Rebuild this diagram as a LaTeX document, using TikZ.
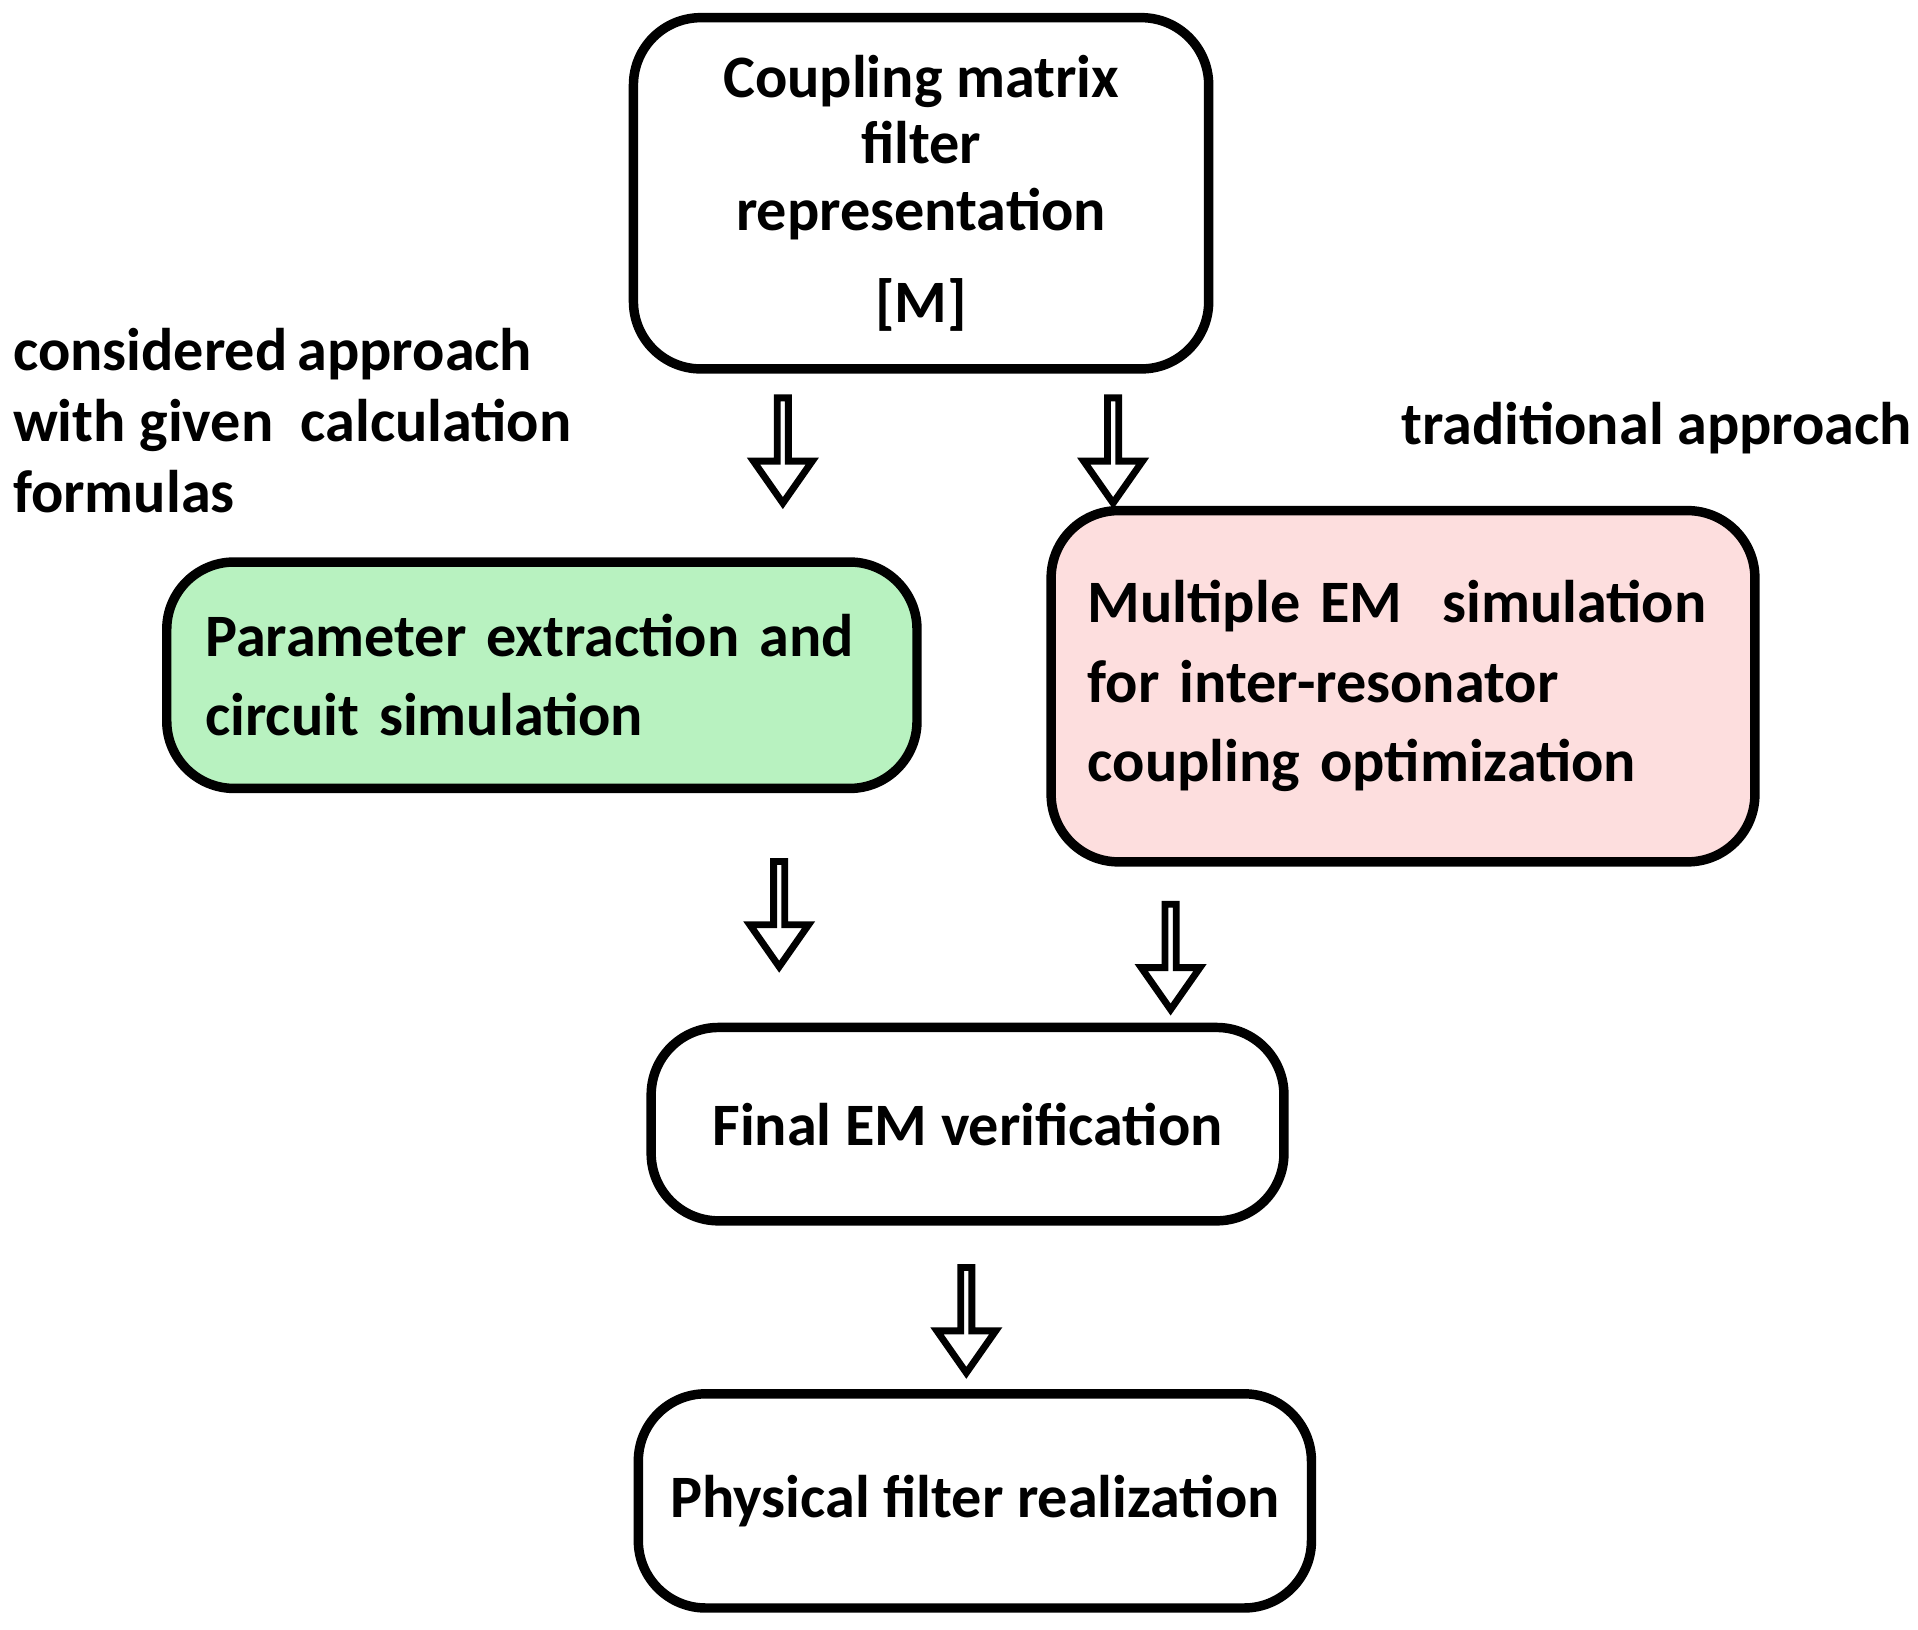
\documentclass[tikz,border=0pt]{standalone}
\usepackage{fontspec}
\setmainfont{Carlito}
\usetikzlibrary{shapes,arrows,positioning,calc}

\begin{document}
\begin{tikzpicture}[x=0.01cm,y=-0.01cm]
  \tikzstyle{box}=[draw=black, line width=2.2pt, rounded corners=0.55cm, font=\bfseries\fontsize{14}{18.5}\selectfont]
  \tikzstyle{down}=[single arrow, draw=black, line width=1.6pt, fill=white, shape border rotate=270,
    minimum width=0.48cm, single arrow head extend=0.12cm, single arrow tip angle=70, minimum height=0.86cm, inner sep=0pt]
  \tikzstyle{note}=[font=\bfseries\fontsize{14}{16.5}\selectfont, inner sep=0pt]
  \useasboundingbox (0,0) rectangle (1568,1332);

  % Blöcke
  \node[box, minimum width=4.7cm, minimum height=2.87cm, align=center] (matrix) at (753,158)
    {Coupling matrix\\[-3pt]filter\\[-3pt]representation\\[3pt][M]};
  \node[box, fill={rgb,255:red,184;green,242;blue,192}, minimum width=6.13cm, minimum height=1.85cm,
    align=left, text width=5.5cm] (param) at (443,552)
    {\raggedright Parameter extraction and\\circuit simulation};
  \node[box, fill={rgb,255:red,253;green,222;blue,222}, minimum width=5.75cm, minimum height=2.87cm,
    align=left, text width=5.15cm] (multi) at (1147,561)
    {\raggedright Multiple EM\ \ simulation\\for inter-resonator\\coupling optimization};
  \node[box, minimum width=5.17cm, minimum height=1.58cm] (final) at (791,919) {Final EM verification};
  \node[box, minimum width=5.5cm, minimum height=1.75cm] (phys) at (797,1227) {Physical filter realization};

  % Pfeile
  \node[down] (a1) at (640,365) {};
  \node[down] (a2) at (910,365) {};
  \node[down] (a3) at (637,744) {};
  \node[down] (a4) at (957,779) {};
  \node[down] (a5) at (790,1076) {};

  % Beschriftungen
  \node[note, anchor=north west, align=left] (left) at (10,268)
    {considered\,approach\\with given\ \ calculation\\formulas};
  \node[note, anchor=west] (right) at (1145,350) {traditional approach};
\end{tikzpicture}
\end{document}
